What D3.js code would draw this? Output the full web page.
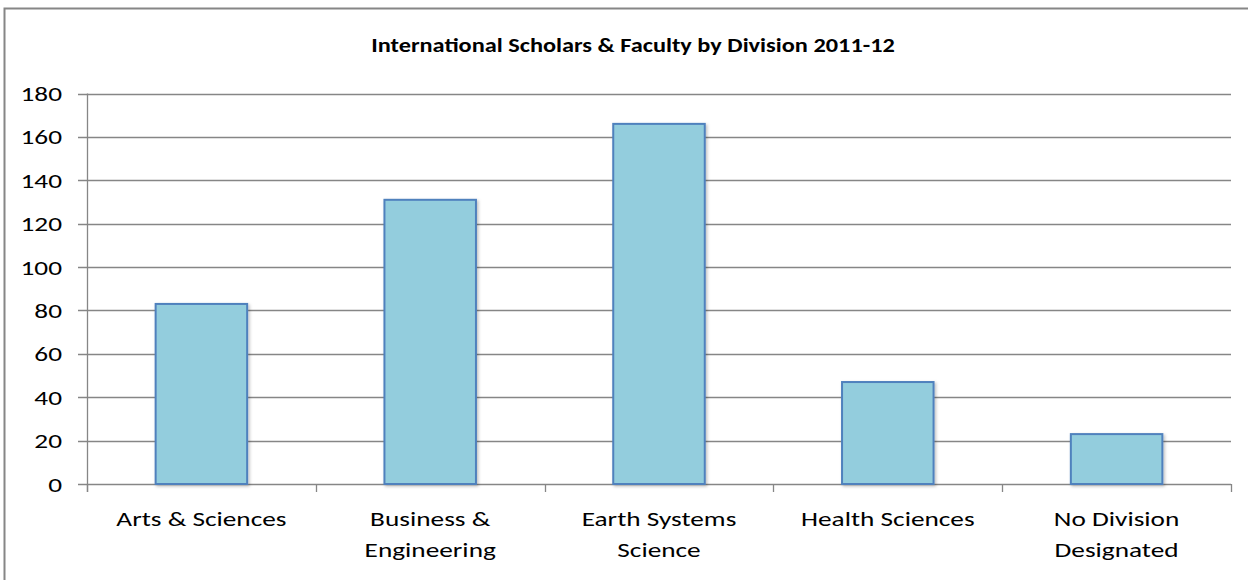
<!DOCTYPE html>
<html>
<head>
<meta charset="utf-8">
<script src="https://cdn.jsdelivr.net/npm/d3@7"></script>
<style>
  body { margin: 0; background: #fff; }
  svg { display: block; font-family: Carlito, Calibri, Lato, sans-serif; }
</style>
</head>
<body>
<svg class="chart" width="1248" height="580"></svg>
<script>
var categories = ["Arts & Sciences", "Business & Engineering", "Earth Systems Science", "Health Sciences", "No Division Designated"];
var label_lines = [["Arts & Sciences"], ["Business &", "Engineering"], ["Earth Systems", "Science"], ["Health Sciences"], ["No Division", "Designated"]];
var values = [83, 131, 166, 47, 23];
var y_ticks = [0, 20, 40, 60, 80, 100, 120, 140, 160, 180];
var title = "International Scholars & Faculty by Division 2011-12";

var bar_fill = '#93CDDD';
var bar_stroke = '#4F81BD';
var grid_color = '#868686';
var text_sx = 1.3; // the picture is stretched sideways

var svg = d3.select(".chart");

// chart frame (right/bottom edges run off the picture)
svg.append("path")
    .attr("d", "M4.5,590 V8.5 H1260")
    .attr("fill", "none")
    .attr("stroke", grid_color)
    .attr("stroke-width", 2);

svg.append("text")
    .attr("transform", "translate(633,52) scale(1.17,1)")
    .attr("text-anchor", "middle")
    .attr("font-weight", "bold")
    .attr("font-size", 20.8)
    .attr("fill", "#000")
    .text(title);

var x = d3.scaleBand()
    .domain(categories)
    .range([87, 1231])
    .paddingInner(0.6)
    .paddingOuter(0.3);

var y = d3.scaleLinear()
    .domain([0, 180])
    .range([484, 93.5]);

// gridlines
svg.append("g")
    .selectAll("line")
    .data(y_ticks)
    .enter()
    .append("line")
    .attr("x1", 78)
    .attr("x2", 1231)
    .attr("y1", function(d) { return Math.round(y(d)) + 0.5; })
    .attr("y2", function(d) { return Math.round(y(d)) + 0.5; })
    .attr("stroke", grid_color)
    .attr("stroke-width", 1.3);

// y axis line
svg.append("line")
    .attr("x1", 87.5).attr("x2", 87.5)
    .attr("y1", y(180)).attr("y2", 492)
    .attr("stroke", grid_color)
    .attr("stroke-width", 1.3);

// x axis category boundary ticks
var step = x.step();
var bounds = d3.range(categories.length + 1).map(function(i) { return x.range()[0] + i * step; });
svg.append("g")
    .selectAll("line")
    .data(bounds)
    .enter()
    .append("line")
    .attr("x1", function(d) { return Math.round(d) + 0.5; })
    .attr("x2", function(d) { return Math.round(d) + 0.5; })
    .attr("y1", 484)
    .attr("y2", 492)
    .attr("stroke", grid_color)
    .attr("stroke-width", 1.3);

// y labels
svg.append("g")
    .selectAll("text")
    .data(y_ticks)
    .enter()
    .append("text")
    .attr("transform", function(d) { return "translate(62," + y(d) + ") scale(" + text_sx + ",1)"; })
    .attr("dy", "0.36em")
    .attr("text-anchor", "end")
    .attr("font-size", 21)
    .attr("fill", "#000")
    .text(function(d) { return d; });

// shadow filter for bars
var defs = svg.append("defs");
var f = defs.append("filter").attr("id", "shadow").attr("x", "-10%").attr("y", "-10%").attr("width", "130%").attr("height", "130%");
f.append("feDropShadow").attr("dx", 1.5).attr("dy", 1.5).attr("stdDeviation", 1.5).attr("flood-color", "#000").attr("flood-opacity", 0.25);

// bars
svg.append("g")
    .selectAll("rect")
    .data(values)
    .enter()
    .append("rect")
    .attr("x", function(d, i) { return x(categories[i]); })
    .attr("y", function(d) { return y(d); })
    .attr("width", x.bandwidth())
    .attr("height", function(d) { return y(0) - y(d); })
    .attr("fill", bar_fill)
    .attr("stroke", bar_stroke)
    .attr("stroke-width", 2)
    .attr("filter", "url(#shadow)");

// x labels
var xl = svg.append("g")
    .selectAll("text")
    .data(label_lines)
    .enter()
    .append("text")
    .attr("transform", function(d, i) { return "translate(" + (x(categories[i]) + x.bandwidth() / 2) + ",0) scale(" + text_sx + ",1)"; })
    .attr("text-anchor", "middle")
    .attr("font-size", 21)
    .attr("fill", "#000");
xl.each(function(lines) {
    var t = d3.select(this);
    lines.forEach(function(s, j) {
        t.append("tspan")
            .attr("x", 0)
            .attr("y", 526 + j * 31)
            .text(s);
    });
});
</script>
</body>
</html>
